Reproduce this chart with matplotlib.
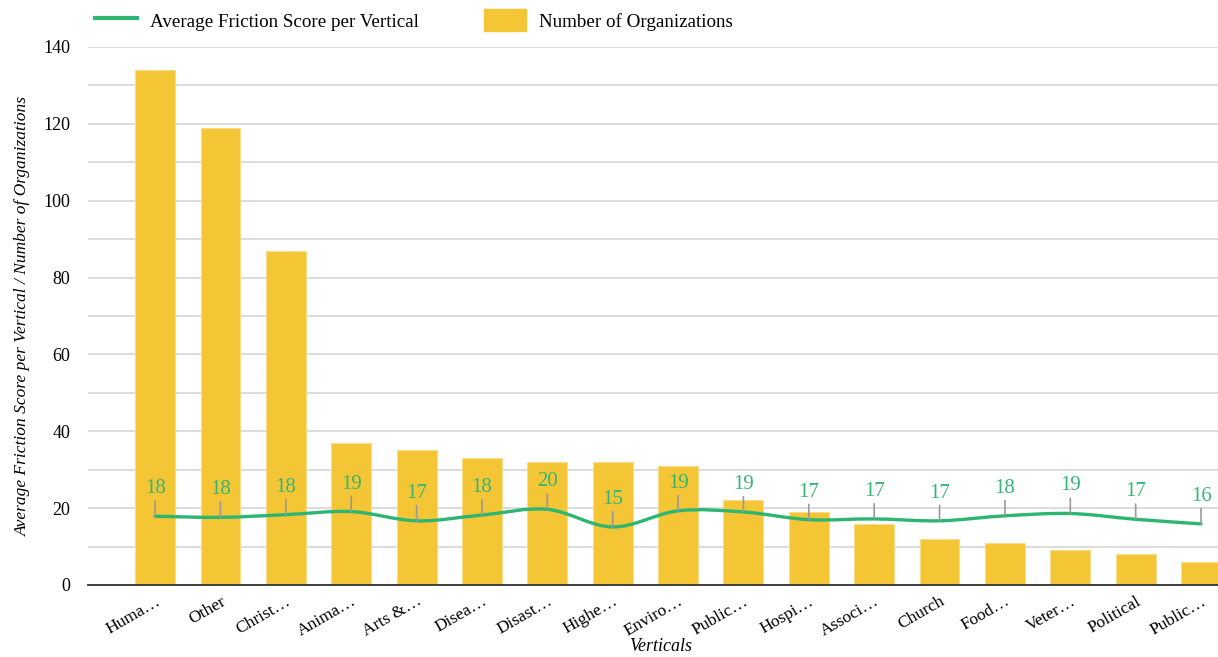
import numpy as np
import matplotlib
matplotlib.use('Agg')
import matplotlib.pyplot as plt
from matplotlib.path import Path
from matplotlib.patches import PathPatch
from matplotlib.lines import Line2D
from matplotlib.patches import Patch

plt.rcParams['font.family'] = ['Liberation Serif', 'DejaVu Serif']

verticals = ['Huma…', 'Other', 'Christ…', 'Anima…', 'Arts &…', 'Disea…', 'Disast…',
             'Highe…', 'Enviro…', 'Public…', 'Hospi…', 'Associ…', 'Church', 'Food…',
             'Veter…', 'Political', 'Public…']
num_orgs = [134, 119, 87, 37, 35, 33, 32, 32, 31, 22, 19, 16, 12, 11, 9, 8, 6]
avg_friction = [17.9, 17.6, 18.3, 19.1, 16.7, 18.2, 19.7, 15.1, 19.3, 19.0,
                17.0, 17.2, 16.7, 18.0, 18.6, 17.1, 15.9]

bar_color = '#F4C534'
line_color = '#2DB572'
label_color = '#35B576'

fig = plt.figure(figsize=(12.18, 6.57), dpi=100)
ax = fig.add_axes([0.0723, 0.1096, 0.9688, 0.8189])

x = np.arange(len(verticals))
ax.bar(x, num_orgs, width=0.61, color=bar_color, edgecolor='#f7dc8a', linewidth=0.8, zorder=2)

# smooth line through the points (Catmull-Rom as bezier segments)
pts = np.column_stack([x, avg_friction]).astype(float)
verts = [pts[0]]
codes = [Path.MOVETO]
n = len(pts)
for i in range(n - 1):
    p0 = pts[max(i - 1, 0)]
    p1 = pts[i]
    p2 = pts[i + 1]
    p3 = pts[min(i + 2, n - 1)]
    verts += [p1 + (p2 - p0) / 6, p2 - (p3 - p1) / 6, p2]
    codes += [Path.CURVE4] * 3
ax.add_patch(PathPatch(Path(verts, codes), facecolor='none', edgecolor=line_color,
                       lw=2.4, zorder=4, capstyle='round'))

for i, v in enumerate(avg_friction):
    ax.annotate(str(int(round(v))), xy=(i, v), xytext=(0, 13), textcoords='offset points',
                ha='center', va='bottom', fontsize=15, color=label_color, zorder=5,
                arrowprops=dict(arrowstyle='-', color='#9a9a9a', lw=1.2, shrinkA=0, shrinkB=0))

ax.set_xlim(-1.025, len(verticals) - 1 + 1.025)
ax.set_ylim(0, 140)
ax.set_yticks(np.arange(0, 141, 20))
ax.set_yticks(np.arange(10, 141, 20), minor=True)
ax.grid(axis='y', which='both', color='#d9d9d9', lw=1.3, zorder=0)
ax.set_axisbelow(True)
ax.tick_params(axis='y', which='both', length=0, pad=13, labelsize=13)
ax.tick_params(axis='x', length=0, pad=6, labelsize=12.5)
ax.set_xticks(x)
ax.set_xticklabels(verticals, rotation=30, ha='right', rotation_mode='anchor')
for s in ['top', 'right', 'left']:
    ax.spines[s].set_visible(False)
ax.spines['bottom'].set_color('#333333')
ax.spines['bottom'].set_linewidth(1.3)

fig.text(0.0185, 0.519, 'Average Friction Score per Vertical / Number of Organizations',
         rotation=90, ha='center', va='center', fontsize=12.5, style='italic')
fig.text(0.542, 0.016, 'Verticals', ha='center', va='center', fontsize=13, style='italic')

handles = [Line2D([], [], color=line_color, lw=3),
           Patch(facecolor=bar_color, edgecolor=bar_color)]
fig.legend(handles, ['Average Friction Score per Vertical', 'Number of Organizations'],
           loc='upper left', bbox_to_anchor=(0.064, 1.012), ncol=2, frameon=False,
           fontsize=13.7, handlelength=2.2, handleheight=1.4, columnspacing=3.4,
           handletextpad=0.7)

fig.savefig('out.png', dpi=100)
